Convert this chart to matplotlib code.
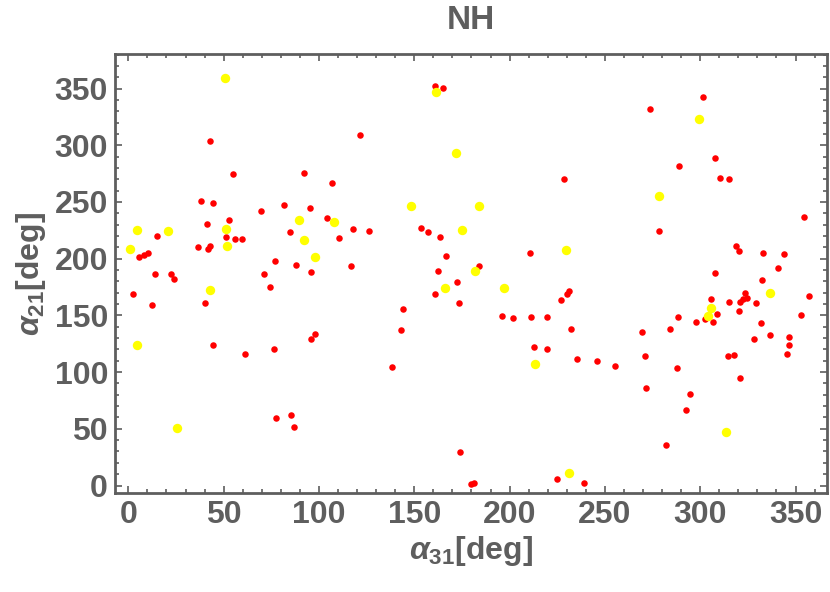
'''
Scatter of alpha21 vs alpha31 (NH), red and yellow samples
'''
import matplotlib
matplotlib.use("Agg")
from matplotlib import pyplot as plt
from matplotlib.ticker import MultipleLocator

# readin the data
red_a31 = [42.7, 54.9, 38.3, 44.6, 52.6, 41.4, 51.0, 55.8, 59.4, 36.7,
           42.7, 41.8, 15.0, 5.4, 8.0, 10.1, 69.4, 81.5, 92.3, 95.5,
           106.6, 121.5, 104.2, 85.0, 117.6, 110.7, 76.7, 87.7, 116.8, 14.0,
           22.2, 24.1, 71.0, 95.8, 74.5, 2.3, 12.6, 40.0, 44.2, 61.4,
           76.2, 95.8, 98.1, 85.3, 77.6, 86.7, 160.8, 164.9, 228.3, 126.0,
           153.3, 157.0, 163.3, 210.8, 166.8, 183.9, 162.6, 172.2, 160.8, 173.4,
           144.2, 143.0, 138.5, 196.0, 201.8, 211.4, 219.6, 226.9, 230.1, 231.1,
           232.2, 212.6, 219.6, 235.3, 245.8, 173.8, 179.7, 181.1, 224.8, 238.8,
           273.6, 301.2, 307.5, 289.1, 310.6, 315.0, 278.5, 354.2, 319.0, 320.3,
           332.9, 344.0, 340.7, 308.0, 332.4, 356.8, 323.7, 322.4, 324.5, 321.0,
           305.8, 315.0, 329.0, 302.7, 308.8, 306.7, 297.9, 320.3, 331.9, 353.1,
           288.1, 284.1, 269.2, 328.3, 336.4, 346.8, 346.8, 345.6, 314.8, 317.8,
           255.3, 271.0, 287.9, 321.1, 271.5, 294.4, 292.3, 282.3]
red_a21 = [303.8, 274.4, 250.9, 248.8, 234.1, 230.6, 218.9, 217.4, 217.4, 210.6,
           211.5, 208.6, 220.3, 201.2, 203.0, 204.8, 242.0, 247.4, 275.8, 244.4,
           267.0, 309.0, 235.6, 223.3, 226.2, 218.3, 197.7, 194.7, 193.3, 186.8,
           186.8, 182.1, 186.8, 188.0, 174.8, 169.1, 158.9, 160.9, 123.6, 116.2,
           120.1, 129.5, 133.3, 62.2, 59.2, 51.3, 352.0, 350.5, 270.3, 224.1,
           226.8, 223.3, 218.9, 205.0, 202.1, 193.8, 189.4, 179.2, 169.1, 160.9,
           155.6, 136.9, 104.8, 149.5, 147.7, 148.6, 148.6, 163.8, 169.1, 171.8,
           138.3, 122.1, 120.1, 111.3, 109.8, 29.3, 1.6, 2.2, 5.7, 2.2,
           332.3, 342.6, 289.1, 281.7, 270.9, 270.3, 224.1, 236.5, 211.5, 206.5,
           205.0, 204.1, 191.8, 187.4, 180.8, 167.1, 170.0, 164.2, 165.3, 161.8,
           164.2, 161.8, 160.9, 147.1, 151.0, 144.2, 144.2, 153.7, 143.6, 150.1,
           148.6, 137.7, 135.4, 129.5, 132.5, 131.0, 123.6, 115.7, 113.9, 114.8,
           105.4, 113.9, 103.9, 94.5, 85.7, 80.4, 66.6, 35.7]

yel_a31 = [50.9, 4.5, 20.6, 1.0, 51.4, 51.8, 89.7, 108.0, 92.0, 98.1,
           43.0, 4.5, 25.5, 161.2, 171.7, 148.4, 183.7, 175.2, 229.7, 181.6,
           166.1, 196.8, 213.5, 230.9, 299.3, 278.3, 336.4, 305.8, 304.0, 313.6]
yel_a21 = [359.6, 225.3, 224.7, 208.6, 226.2, 211.5, 234.1, 232.0, 216.5, 201.8,
           172.7, 123.6, 50.4, 346.7, 293.5, 246.7, 246.2, 225.6, 207.9, 188.9,
           174.2, 174.2, 106.9, 11.0, 322.9, 255.6, 169.8, 156.2, 149.5, 46.9]

grey = '#5e5e5e'
plt.rcParams['font.family'] = ['Liberation Sans', 'DejaVu Sans']
plt.rcParams['font.weight'] = 'bold'
plt.rcParams['mathtext.fontset'] = 'custom'
plt.rcParams['mathtext.rm'] = 'Liberation Sans:bold'
plt.rcParams['mathtext.it'] = 'Liberation Sans:bold:italic'

#plotting
fig = plt.figure(figsize=(8.3, 5.92), dpi=100)
ax = fig.add_axes([115/830, 1 - 493/592, 712/830, 439/592])
ax.scatter(red_a31, red_a21, s=22, color='#ff0000', linewidths=0, zorder=2)
ax.scatter(yel_a31, yel_a21, s=46, color='#ffff00', linewidths=0, zorder=3)

ax.set_xlim(-7, 366.5)
ax.set_ylim(-6.6, 380.5)
ax.xaxis.set_major_locator(MultipleLocator(50))
ax.yaxis.set_major_locator(MultipleLocator(50))
ax.xaxis.set_minor_locator(MultipleLocator(10))
ax.yaxis.set_minor_locator(MultipleLocator(10))
ax.tick_params(which='both', direction='in', top=True, right=True,
               color=grey, width=1.2, labelcolor=grey, labelsize=23, pad=5)
ax.tick_params(which='major', length=5)
ax.tick_params(which='minor', length=3)
for lab in ax.get_xticklabels() + ax.get_yticklabels():
    lab.set_fontweight('bold')
for sp in ax.spines.values():
    sp.set_color(grey)
    sp.set_linewidth(2)

ax.set_title('NH', fontsize=24, color=grey, fontweight='bold', pad=18)
ax.set_xlabel(r'$\alpha_{\mathrm{31}}$[deg]', fontsize=23, color=grey,
              fontweight='bold', labelpad=3)
ax.set_ylabel(r'$\alpha_{\mathrm{21}}$[deg]', fontsize=23, color=grey,
              fontweight='bold', labelpad=5)

fig.savefig('out.png', dpi=100)
